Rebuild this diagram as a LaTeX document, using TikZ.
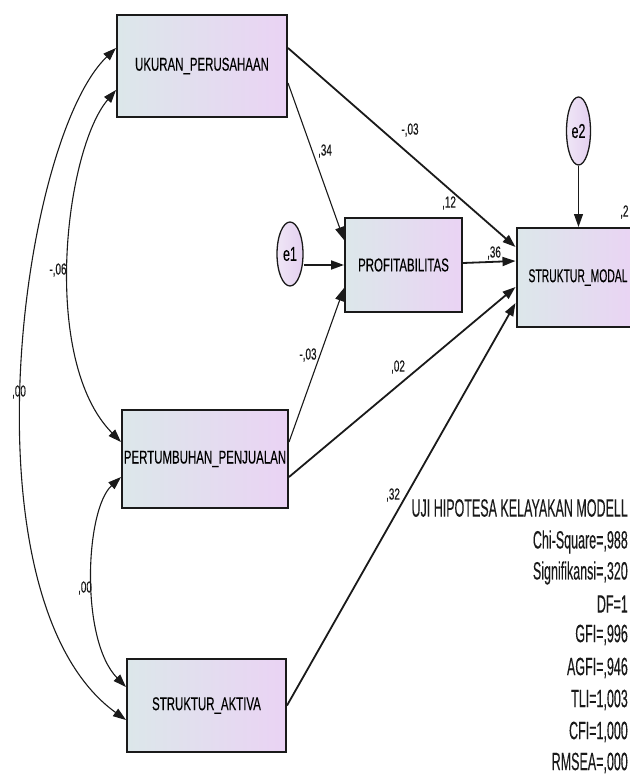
\documentclass[tikz,border=0pt]{standalone}
\usepackage{fontspec}
\setmainfont{Liberation Sans}[FakeBold=0.35]
\usetikzlibrary{arrows.meta,shapes.geometric}
\newcommand\nrw[1]{\scalebox{0.62}[1]{#1}}
\newcommand\nrwm[1]{\scalebox{0.56}[1]{#1}}
\newcommand\nrwf[1]{\scalebox{0.5}[1]{#1}}
\definecolor{boxL}{HTML}{DCE7EA}
\definecolor{boxR}{HTML}{EAD3F4}
\definecolor{eL}{HTML}{EFE6F6}
\definecolor{eR}{HTML}{E4D0F0}
\definecolor{ink}{HTML}{1A1A1A}
\tikzset{
  var/.style={draw=ink, line width=2pt, left color=boxL, right color=boxR,
    inner sep=0pt, font=\fontsize{18.5}{18.5}\selectfont},
  err/.style={ellipse, draw=ink, line width=1.3pt, left color=eL, right color=eR,
    inner sep=0pt, font=\fontsize{20}{20}\selectfont},
  lbl/.style={font=\fontsize{16}{16}\selectfont, text=ink, inner sep=0pt},
  fit/.style={font=\fontsize{25}{25}\selectfont, text=ink, inner sep=0pt, anchor=east},
  tip/.style={-{Triangle[length=13pt,width=9pt]}},
  both/.style={{Triangle[length=13pt,width=9pt]}-{Triangle[length=13pt,width=9pt]}},
  thick path/.style={line width=1.8pt, draw=ink},
  thin path/.style={line width=1.1pt, draw=ink},
}
\begin{document}
\begin{tikzpicture}[x=1pt,y=-1pt]
\useasboundingbox (0,0) rectangle (629,778);
\fill[white] (0,0) rectangle (629,778);

% variables
\node[var, minimum width=170pt, minimum height=102pt] (uk) at (202,66) {\nrw{UKURAN\_PERUSAHAAN}};
\node[var, minimum width=117pt, minimum height=94pt] (prof) at (403.5,265) {\nrw{PROFITABILITAS}};
\node[var, minimum width=166pt, minimum height=98pt] (pert) at (205,459) {\nrw{PERTUMBUHAN\_PENJUALAN}};
\node[var, minimum width=159pt, minimum height=93pt] (akt) at (206.5,705.5) {\nrw{STRUKTUR\_AKTIVA}};
\node[var, minimum width=123pt, minimum height=99pt] (modal) at (578,277.5) {\nrwm{STRUKTUR\_MODAL}};
\node[err, minimum width=26pt, minimum height=64pt] (e1) at (290,254) {\nrw{e1}};
\node[err, minimum width=24pt, minimum height=68pt] (e2) at (578.5,131) {\nrw{e2}};

% regression paths
\draw[thick path, tip] ([yshift=18pt]uk.east) -- ([yshift=30.5pt]modal.west);
\draw[thin path, tip] ([yshift=-17pt]uk.east) -- ([yshift=25pt]prof.west);
\draw[thick path, tip] (e1.east |- prof.west) -- (prof.west);
\draw[thin path, tip] ([yshift=17pt]pert.east) -- ([yshift=-23pt]prof.west);
\draw[thick path, tip] ([yshift=2pt]prof.east) -- ([yshift=16.5pt]modal.west);
\draw[thick path, tip] ([yshift=-18pt]pert.east) -- ([yshift=-9.5pt]modal.west);
\draw[thick path, tip] (akt.east) -- ([yshift=-25.5pt]modal.west);
\draw[thin path, tip] (e2.south) -- (e2.south |- modal.north);

% covariances
\draw[thin path, both] ([yshift=-24pt]uk.west) .. controls (65,150) and (40,360) .. ([yshift=17pt]pert.west);
\draw[thin path, both] ([yshift=18pt]uk.west) .. controls (20,140) and (-40,600) .. ([yshift=-14.5pt]akt.west);
\draw[thin path, both] ([yshift=-18pt]pert.west) .. controls (85,510) and (80,640) .. ([yshift=18.5pt]akt.west);

% path labels
\node[lbl] (l1) at (325,151) {\nrw{,34}};
\node[lbl] (l2) at (410,130) {\nrw{-,03}};
\node[lbl] (l3) at (449,203) {\nrw{,12}};
\node[lbl] (l4) at (494,253) {\nrw{,36}};
\node[lbl, anchor=west] (l5) at (620,212) {\nrw{,2}};
\node[lbl] (l6) at (308,355) {\nrw{-,03}};
\node[lbl] (l7) at (398,367) {\nrw{,02}};
\node[lbl] (l8) at (393,495) {\nrw{,32}};
\node[lbl] (l9) at (58,270) {\nrw{-,06}};
\node[lbl] (l10) at (19,392) {\nrw{,00}};
\node[lbl] (l11) at (85,588) {\nrw{,00}};

% fit indices
\node[fit] (t0) at (628,508) {\nrwf{UJI HIPOTESA KELAYAKAN MODELL}};
\node[fit] (t1) at (628,542) {\nrwf{Chi-Square=,988}};
\node[fit] (t2) at (628,573) {\nrwf{Signifikansi=,320}};
\node[fit] (t3) at (628,604) {\nrwf{DF=1}};
\node[fit] (t4) at (628,635) {\nrwf{GFI=,996}};
\node[fit] (t5) at (628,668) {\nrwf{AGFI=,946}};
\node[fit] (t6) at (628,700) {\nrwf{TLI=1,003}};
\node[fit] (t7) at (628,732) {\nrwf{CFI=1,000}};
\node[fit] (t8) at (628,763) {\nrwf{RMSEA=,000}};
\end{tikzpicture}
\end{document}
